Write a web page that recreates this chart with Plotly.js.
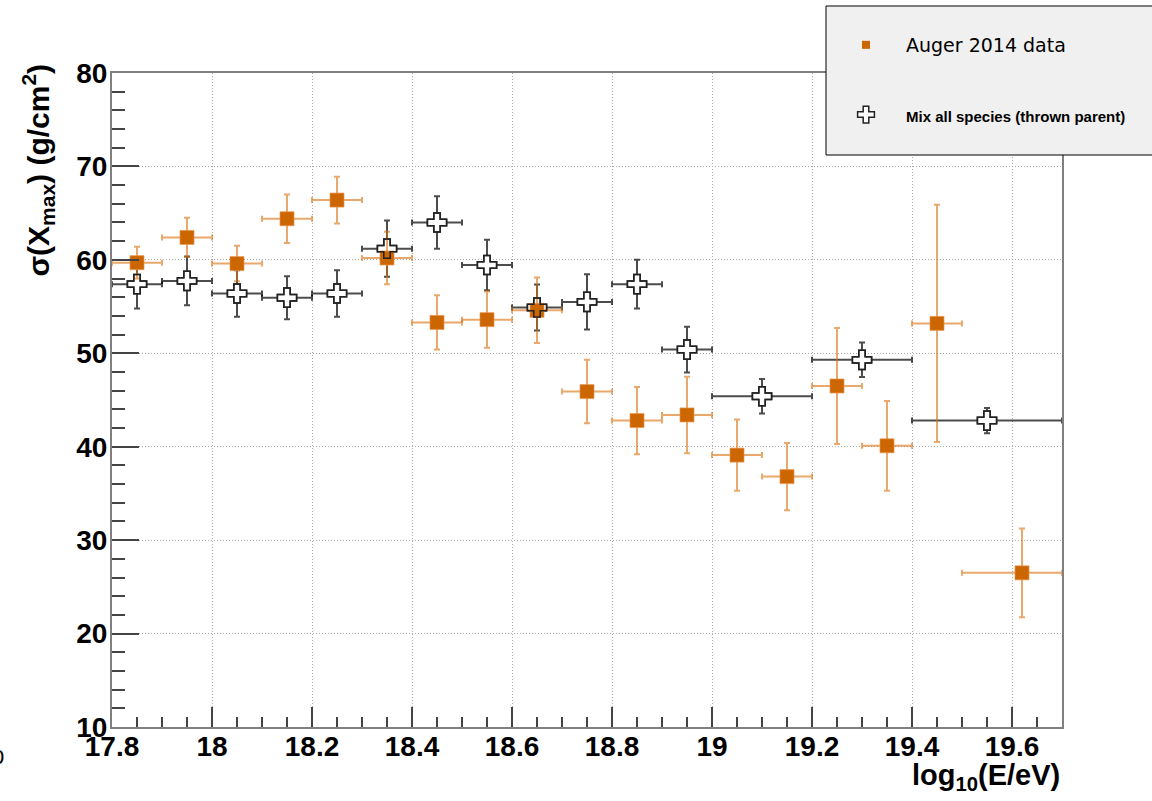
<!DOCTYPE html>
<html>
<head>
<meta charset="utf-8">
<script src="https://cdn.plot.ly/plotly-3.0.1.min.js"></script>
<style>html,body{margin:0;padding:0;background:#fff;} #chart{width:1152px;height:801px;}</style>
</head>
<body>
<div id="chart"></div>
<script>
// Auger 2014 data
var augerX      = [17.85, 17.95, 18.05, 18.15, 18.25, 18.35, 18.45, 18.55, 18.65, 18.75, 18.85, 18.95, 19.05, 19.15, 19.25, 19.35, 19.45, 19.62];
var augerY      = [59.7, 62.4, 59.6, 64.4, 66.4, 60.2, 53.3, 53.6, 54.6, 45.9, 42.8, 43.4, 39.1, 36.8, 46.5, 40.1, 53.2, 26.5];
var augerErrY   = [1.7, 2.1, 1.9, 2.6, 2.5, 2.8, 2.9, 3.0, 3.5, 3.4, 3.6, 4.1, 3.8, 3.6, 6.2, 4.8, 12.7, 4.75];
var augerErrXp  = [0.05, 0.05, 0.05, 0.05, 0.05, 0.05, 0.05, 0.05, 0.05, 0.05, 0.05, 0.05, 0.05, 0.05, 0.05, 0.05, 0.05, 0.08];
var augerErrXm  = [0.05, 0.05, 0.05, 0.05, 0.05, 0.05, 0.05, 0.05, 0.05, 0.05, 0.05, 0.05, 0.05, 0.05, 0.05, 0.05, 0.05, 0.12];

// Mix all species (thrown parent)
var simX    = [17.85, 17.95, 18.05, 18.15, 18.25, 18.35, 18.45, 18.55, 18.65, 18.75, 18.85, 18.95, 19.1, 19.3, 19.55];
var simY    = [57.4, 57.75, 56.4, 55.95, 56.4, 61.2, 64.0, 59.45, 54.9, 55.5, 57.4, 50.4, 45.4, 49.3, 42.8];
var simErrY = [2.6, 2.6, 2.5, 2.3, 2.5, 3.0, 2.8, 2.7, 2.45, 2.95, 2.6, 2.45, 1.85, 1.85, 1.35];
var simErrX = [0.05, 0.05, 0.05, 0.05, 0.05, 0.05, 0.05, 0.05, 0.05, 0.05, 0.05, 0.05, 0.1, 0.1, 0.15];

var seriesNames = ['Auger 2014 data', 'Mix all species (thrown parent)'];

var orange = '#cc6600';
var orangeErr = 'rgba(218,110,10,0.6)';
var blackErr = 'rgba(0,0,0,0.7)';

var traces = [
  // simulation: white-filled crosses with error bars (below)
  {
    x: simX, y: simY, type: 'scatter', mode: 'markers', showlegend: false, hoverinfo: 'skip',
    marker: {symbol: 'cross', size: 16, color: '#ffffff', line: {color: '#222', width: 1.5}},
    error_y: {type: 'data', array: simErrY, visible: true, color: blackErr, thickness: 2, width: 3},
    error_x: {type: 'data', array: simErrX, visible: true, color: blackErr, thickness: 2, width: 3}
  },
  // Auger data
  {
    x: augerX, y: augerY, type: 'scatter', mode: 'markers', showlegend: false,
    marker: {symbol: 'square', size: 14, color: orange, line: {color: 'rgba(232,150,80,0.7)', width: 1}},
    error_y: {type: 'data', array: augerErrY, visible: true, color: orangeErr, thickness: 2, width: 3},
    error_x: {type: 'data', symmetric: false, array: augerErrXp, arrayminus: augerErrXm, visible: true, color: orangeErr, thickness: 2, width: 3}
  },
  // simulation outlines on top
  {
    x: simX, y: simY, type: 'scatter', mode: 'markers', showlegend: false, hoverinfo: 'skip',
    marker: {symbol: 'cross-open', size: 16, color: '#222', line: {color: '#222', width: 1.5}}
  },
  // legend entries
  {
    x: [null], y: [null], type: 'scatter', mode: 'markers', name: '<span style="font-family:\'DejaVu Sans\';font-size:19px;font-weight:normal">' + seriesNames[0] + '</span>',
    legendgroup: 'a', legendrank: 1,
    marker: {symbol: 'square', size: 8, color: orange}
  },
  {
    x: [null], y: [null], type: 'scatter', mode: 'markers', name: '<span style="font-family:\'Liberation Sans\';font-size:15px;font-weight:bold">' + seriesNames[1] + '</span>',
    legendgroup: 'b', legendrank: 2,
    marker: {symbol: 'cross', size: 14, color: '#ffffff', line: {color: '#222', width: 1.5}}
  }
];

var W = 1152, H = 801;
var L = 112, R = 90, T = 73, B = 74;
var pw = W - L - R, ph = H - T - B;
function px2x(p) { return (p - L) / pw; }
function px2y(p) { return (H - B - p) / ph; }

var tickFont = {family: 'Liberation Sans, Arial, sans-serif', size: 28, color: '#000', weight: 'bold'};

var layout = {
  width: W, height: H,
  margin: {l: L, r: R, t: T, b: B, pad: 0},
  paper_bgcolor: '#ffffff', plot_bgcolor: '#ffffff',
  showlegend: true,
  xaxis: {
    range: [17.8, 19.7], dtick: 0.2, tick0: 17.8,
    showline: true, linecolor: '#808080', linewidth: 2, mirror: true,
    ticks: 'inside', ticklen: 20, tickwidth: 2, tickcolor: '#444',
    minor: {dtick: 0.05, ticks: 'inside', ticklen: 10, tickwidth: 2, tickcolor: '#444', showgrid: false},
    showgrid: true, gridcolor: '#aaaaaa', griddash: '1px,2px', gridwidth: 1,
    zeroline: false, tickfont: tickFont, ticklabelstandoff: -7
  },
  yaxis: {
    range: [10, 80], dtick: 10, tick0: 10,
    showline: true, linecolor: '#808080', linewidth: 2, mirror: true,
    ticks: 'inside', ticklen: 27, tickwidth: 2, tickcolor: '#444',
    minor: {dtick: 2, ticks: 'inside', ticklen: 13, tickwidth: 2, tickcolor: '#444', showgrid: false},
    showgrid: true, gridcolor: '#aaaaaa', griddash: '1px,2px', gridwidth: 1,
    zeroline: false, tickfont: tickFont, ticklabelstandoff: -3
  },
  legend: {
    x: px2x(826), xanchor: 'left', y: px2y(26), yanchor: 'top',
    bgcolor: 'rgba(0,0,0,0)', borderwidth: 0,
    traceorder: 'grouped', tracegroupgap: 42, itemwidth: 70,
    font: {family: 'DejaVu Sans', size: 19, color: '#000'}
  },
  shapes: [{
    type: 'rect', xref: 'paper', yref: 'paper', layer: 'above',
    x0: px2x(826), x1: px2x(1200), y0: px2y(155), y1: px2y(6),
    fillcolor: '#f0f0f0', line: {color: '#000', width: 1}
  }],
  annotations: [
    {
      xref: 'paper', yref: 'paper', x: 1, xanchor: 'right', y: px2y(757), yanchor: 'top',
      text: 'log<sub>10</sub>(E/eV)', showarrow: false,
      font: {family: 'Liberation Sans, Arial, sans-serif', size: 29, color: '#000', weight: 'bold'}
    },
    {
      xref: 'paper', yref: 'paper', x: px2x(38), xanchor: 'center', y: px2y(62), yanchor: 'top',
      textangle: -90,
      text: 'σ(X<sub>max</sub>) (g/cm<sup>2</sup>)', showarrow: false,
      font: {family: 'Liberation Sans, Arial, sans-serif', size: 30, color: '#000', weight: 'bold'}
    },
    {
      xref: 'paper', yref: 'paper', x: px2x(7), xanchor: 'right', y: px2y(757), yanchor: 'middle',
      text: '0', showarrow: false,
      font: {family: 'DejaVu Sans', size: 20, color: '#000'}
    }
  ]
};

Plotly.newPlot('chart', traces, layout, {displayModeBar: false, staticPlot: true});
</script>
</body>
</html>
